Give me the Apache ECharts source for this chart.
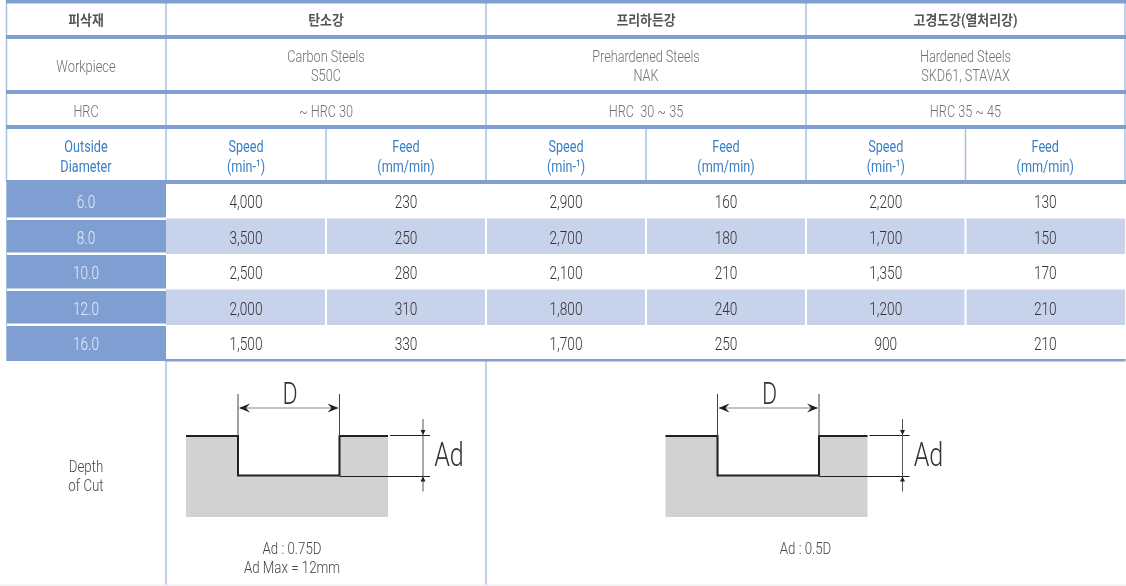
<!DOCTYPE html>
<html>
<head>
<meta charset="utf-8">
<style>
  html, body { margin: 0; padding: 0; background: #fff; }
  #main { width: 1126px; height: 586px; }
</style>
<script src="https://cdn.jsdelivr.net/npm/echarts@6/dist/echarts.min.js"></script>
</head>
<body>
<div id="main"></div>
<script>
// table content
var materialKo = ["탄소강", "프리하든강", "고경도강(열처리강)"];
var materialEn = ["Carbon Steels\nS50C", "Prehardened Steels\nNAK", "Hardened Steels\nSKD61, STAVAX"];
var hrcRange = ["~ HRC 30", "HRC  30 ~ 35", "HRC 35 ~ 45"];
var diameters = ["6.0", "8.0", "10.0", "12.0", "16.0"];
var speedCarbon = [4000, 3500, 2500, 2000, 1500];
var feedCarbon = [230, 250, 280, 310, 330];
var speedPre = [2900, 2700, 2100, 1800, 1700];
var feedPre = [160, 180, 210, 240, 250];
var speedHard = [2200, 1700, 1350, 1200, 900];
var feedHard = [130, 150, 170, 210, 210];
var depthNotes = ["Ad : 0.75D\nAd Max = 12mm", "Ad : 0.5D"];

// layout, in axis units (the axes span the page)
var colEdge = [6.5, 166, 326, 486, 646, 806, 965.5, 1125];
var rowTextY = [21, 67.5, 113, 158, 203.5, 239.5, 275, 310.5, 346];
var fillTop = [181, 220, 255, 291, 326];
var fillBottom = [217.5, 252.5, 288.5, 323.5, 361];
var stripeTop = [218.5, 289.5];
var stripeBottom = [254, 325];
var groupEdge = [166, 486, 806, 1125];

var BLUE = "#7f9fd2", LIGHT = "#c6d3ea", LINE = "#a9c0e6", HEAD = "#3d80c6", GRAY = "#707070";
var FONT = "Roboto, 'Noto Sans CJK KR', sans-serif";
var NARROW = 0.745, DIGITS = 0.78, NOTES = 0.83;

var marks = [];
function rect(x0, y0, x1, y1, fill) { marks.push({ t: "rect", x0: x0, y0: y0, x1: x1, y1: y1, fill: fill }); }
function poly(pts, color, width) { marks.push({ t: "line", pts: pts, color: color, width: width }); }
function tri(pts, color) { marks.push({ t: "tri", pts: pts, color: color }); }
function label(x, y, text, color, size, weight, lh, sx) {
  marks.push({ t: "text", x: x, y: y, text: text, color: color, size: size, weight: weight || 300, lh: lh, sx: sx || NARROW });
}

// striped rows, then the blue first column
stripeTop.forEach(function (top, i) {
  for (var c = 1; c < 7; c++) {
    rect(colEdge[c] + (c === 1 ? 0 : 1), top, colEdge[c + 1] - (c === 6 ? 0 : 1), stripeBottom[i], LIGHT);
  }
});
diameters.forEach(function (d, r) {
  rect(colEdge[0], fillTop[r], colEdge[1], fillBottom[r], BLUE);
});

// vertical rules
[6.5, 166, 486, 806, 1125].forEach(function (x) { poly([[x, 0], [x, 181]], LINE, 1.5); });
[326, 646, 965.5].forEach(function (x) { poly([[x, 129], [x, 181]], LINE, 1.5); });
poly([[6.5, 181], [6.5, 361]], LINE, 1);
[166, 486].forEach(function (x) { poly([[x, 361], [x, 586]], LINE, 1.5); });

// horizontal bands
[[0, 3.5], [35, 39], [90, 94], [125, 129], [180, 184]].forEach(function (b) {
  rect(b[1] === 184 ? 166 : 6, b[0], 1126, b[1], BLUE);
});
rect(6, 180, 166, 182, BLUE);
rect(166, 359, 1125.5, 361.5, BLUE);
rect(0, 584.5, 1126, 586, "#f0f0f0");

// header rows
label(86, rowTextY[0], "피삭재", "#555", 14, "bold", null, 0.92);
label(86, rowTextY[1], "Workpiece", GRAY, 17, 300, null, 0.76);
label(86, rowTextY[2], "HRC", GRAY, 17);
label(86, rowTextY[3], "Outside\nDiameter", HEAD, 17, 400, 20);
materialKo.forEach(function (s, g) {
  var cx = (groupEdge[g] + groupEdge[g + 1]) / 2;
  label(cx, rowTextY[0], s, "#555", 14, "bold", null, 0.92);
  label(cx, rowTextY[1], materialEn[g], GRAY, 17, 300, 19);
  label(cx, rowTextY[2], hrcRange[g], GRAY, 17);
});
for (var c = 1; c < 7; c++) {
  var cx = (colEdge[c] + colEdge[c + 1]) / 2;
  label(cx, rowTextY[3], c % 2 ? "Speed\n(min-¹)" : "Feed\n(mm/min)", HEAD, 17, 400, 20);
}

// value rows
var columns = [speedCarbon, feedCarbon, speedPre, feedPre, speedHard, feedHard];
diameters.forEach(function (d, r) {
  label(86, rowTextY[4 + r], d, "#e6ecf6", 17.5, 300, null, DIGITS);
  columns.forEach(function (col, c) {
    label((colEdge[c + 1] + colEdge[c + 2]) / 2, rowTextY[4 + r], col[r].toLocaleString("en-US"), "#333", 17.5, 300, null, DIGITS);
  });
});

// depth of cut row
label(86, 477.5, "Depth\nof Cut", "#444", 16, 300, 19, NOTES);
label(292, 559.5, depthNotes[0], "#444", 16, 300, 19, NOTES);
label(805.5, 549.5, depthNotes[1], "#444", 16, 300, null, NOTES);

[0, 479.5].forEach(function (dx) {
  rect(186 + dx, 436, 388 + dx, 517, "#d1d2d4");
  rect(239 + dx, 436, 339 + dx, 475, "#fff");
  poly([[186 + dx, 436], [238 + dx, 436], [238 + dx, 475.5], [339.5 + dx, 475.5], [339.5 + dx, 436], [388 + dx, 436]], "#231f20", 2);
  // D dimension
  poly([[238 + dx, 394], [238 + dx, 436]], "#444", 1);
  poly([[339.5 + dx, 394], [339.5 + dx, 436]], "#444", 1);
  poly([[240 + dx, 408], [338 + dx, 408]], "#888", 1.2);
  tri([[239 + dx, 408], [250 + dx, 403.5], [246 + dx, 408], [250 + dx, 412.5]], "#231f20");
  tri([[338.5 + dx, 408], [327.5 + dx, 403.5], [331.5 + dx, 408], [327.5 + dx, 412.5]], "#231f20");
  label(290 + dx, 396, "D", "#333", 31);
  // Ad dimension
  poly([[390 + dx, 435.5], [430 + dx, 435.5]], "#231f20", 1);
  poly([[340 + dx, 476.5], [430 + dx, 476.5]], "#231f20", 1);
  poly([[423 + dx, 419], [423 + dx, 491.5]], "#555", 1);
  tri([[423 + dx, 435], [420.5 + dx, 430], [425.5 + dx, 430]], "#231f20");
  tri([[423 + dx, 476.5], [420.5 + dx, 481.5], [425.5 + dx, 481.5]], "#231f20");
  label(449 + dx, 458, "Ad", "#333", 33, 300, null, 0.76);
});

function renderMark(params, api) {
  var m = marks[params.dataIndex];
  if (m.t === "rect") {
    var a = api.coord([m.x0, m.y0]), b = api.coord([m.x1, m.y1]);
    return { type: "rect", shape: { x: a[0], y: a[1], width: b[0] - a[0], height: b[1] - a[1] }, style: { fill: m.fill } };
  }
  if (m.t === "line") {
    return { type: "polyline", shape: { points: m.pts.map(function (p) { return api.coord(p); }) },
      style: { stroke: m.color, lineWidth: m.width, fill: null } };
  }
  if (m.t === "tri") {
    return { type: "polygon", shape: { points: m.pts.map(function (p) { return api.coord(p); }) }, style: { fill: m.color } };
  }
  var p = api.coord([m.x, m.y]);
  return { type: "text", x: p[0], y: p[1], scaleX: m.sx, style: {
    text: m.text, fill: m.color, font: m.weight + " " + m.size + "px " + FONT,
    align: "center", verticalAlign: "middle", lineHeight: m.lh } };
}

var myChart = echarts.init(document.getElementById("main"), null, { renderer: "canvas" });
myChart.setOption({
  animation: false,
  backgroundColor: "#fff",
  grid: { left: 0, right: 0, top: 0, bottom: 0 },
  xAxis: { type: "value", min: 0, max: 1126, show: false },
  yAxis: { type: "value", min: 0, max: 586, inverse: true, show: false },
  series: [{
    type: "custom",
    coordinateSystem: "cartesian2d",
    clip: false,
    silent: true,
    data: marks.map(function (m, i) { return [i, i]; }),
    renderItem: renderMark
  }]
});
</script>
</body>
</html>
